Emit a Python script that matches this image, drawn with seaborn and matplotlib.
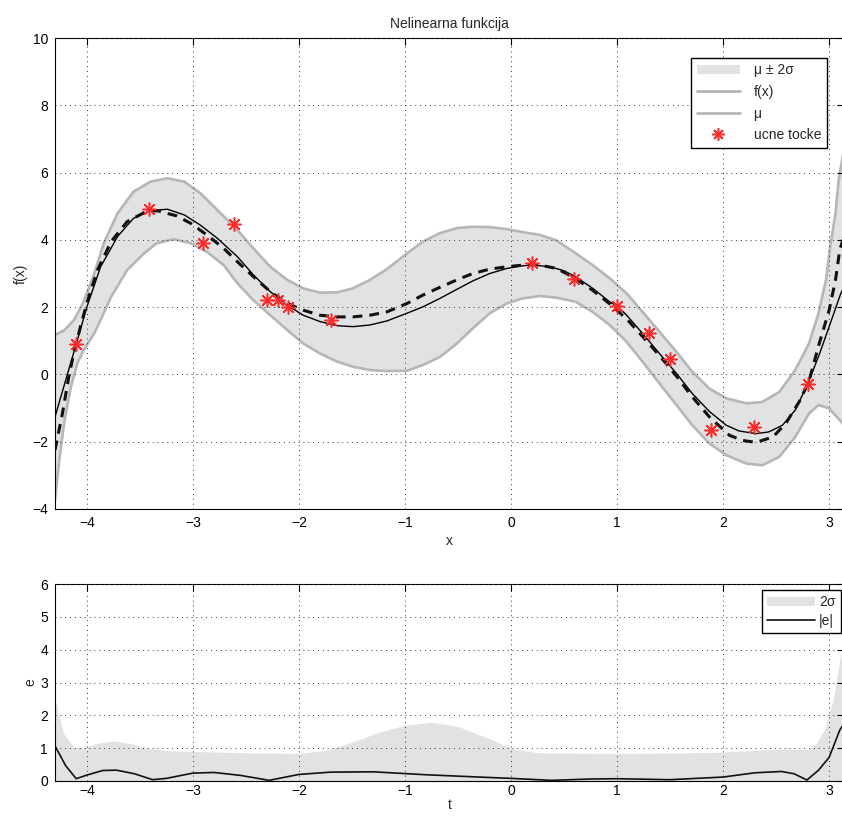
import numpy as np
import matplotlib
matplotlib.use('Agg')
import matplotlib.pyplot as plt
import seaborn as sns
from matplotlib.lines import Line2D
from matplotlib.patches import Patch

sns.set_theme(style='white')
plt.rcParams['font.family'] = ['Liberation Sans', 'DejaVu Sans']
plt.rcParams['axes.unicode_minus'] = True

# prava funkcija f(x)
x_f = [-4.30, -4.20, -4.10, -4.00, -3.87, -3.71, -3.56, -3.40, -3.24, -3.08, -2.93, -2.77,
       -2.58, -2.43, -2.27, -2.11, -1.96, -1.80, -1.64, -1.49, -1.33, -1.17, -0.98, -0.83,
       -0.67, -0.51, -0.36, -0.20, -0.04, 0.11, 0.21, 0.37, 0.50, 0.61, 0.77, 0.93, 1.01,
       1.09, 1.24, 1.40, 1.56, 1.71, 1.87, 2.03, 2.15, 2.31, 2.43, 2.56, 2.68, 2.80, 2.91,
       3.00, 3.11, 3.14]
y_f = [-1.26, -0.18, 0.90, 2.00, 3.20, 4.10, 4.64, 4.87, 4.91, 4.74, 4.44, 4.05,
       3.50, 2.96, 2.46, 2.06, 1.76, 1.57, 1.45, 1.42, 1.47, 1.59, 1.82, 2.01,
       2.26, 2.53, 2.78, 3.00, 3.15, 3.23, 3.25, 3.20, 3.08, 2.90, 2.56, 2.16, 2.01,
       1.76, 1.22, 0.62, 0.03, -0.57, -1.10, -1.51, -1.68, -1.76, -1.71, -1.51, -1.06, -0.27, 0.62,
       1.42, 2.41, 2.60]

# srednja vrijednost mu
x_mu = [-4.30, -4.23, -4.17, -4.12, -4.06, -4.00, -3.90, -3.77, -3.62, -3.46, -3.34, -3.15,
        -3.02, -2.87, -2.71, -2.58, -2.43, -2.27, -2.11, -1.96, -1.80, -1.64, -1.49, -1.33,
        -1.17, -0.98, -0.83, -0.67, -0.51, -0.36, -0.20, -0.04, 0.11, 0.27, 0.43, 0.61, 0.77,
        0.93, 1.09, 1.24, 1.40, 1.56, 1.71, 1.87, 2.06, 2.18, 2.31, 2.47, 2.59, 2.72, 2.81,
        2.90, 3.00, 3.06, 3.10, 3.14]
y_mu = [-2.25, -1.16, -0.07, 0.67, 1.42, 2.11, 3.10, 3.95, 4.54, 4.81, 4.87, 4.71,
        4.49, 4.15, 3.75, 3.35, 2.91, 2.46, 2.11, 1.91, 1.76, 1.71, 1.71, 1.76,
        1.86, 2.11, 2.36, 2.59, 2.81, 3.00, 3.13, 3.20, 3.25, 3.25, 3.15, 2.85, 2.50,
        2.10, 1.65, 1.13, 0.56, -0.05, -0.67, -1.26, -1.81, -1.96, -2.02, -1.86, -1.46, -0.80, -0.20,
        0.85, 1.91, 2.81, 3.70, 4.10]

# mu + 2 sigma
x_up = [-4.30, -4.21, -4.12, -4.03, -3.93, -3.84, -3.71, -3.56, -3.40, -3.24, -3.08, -2.93,
        -2.77, -2.58, -2.43, -2.27, -2.11, -1.96, -1.80, -1.64, -1.49, -1.33, -1.17, -0.98,
        -0.83, -0.67, -0.51, -0.36, -0.20, -0.04, 0.11, 0.27, 0.43, 0.61, 0.77, 0.93, 1.09,
        1.24, 1.40, 1.56, 1.71, 1.87, 2.03, 2.22, 2.37, 2.53, 2.68, 2.81, 2.90, 2.97, 3.01,
        3.06, 3.09, 3.14]
y_up = [1.17, 1.32, 1.62, 2.16, 3.00, 3.90, 4.79, 5.43, 5.73, 5.83, 5.73, 5.39,
        4.89, 4.29, 3.75, 3.20, 2.81, 2.56, 2.43, 2.44, 2.56, 2.81, 3.13, 3.60,
        3.95, 4.20, 4.35, 4.39, 4.38, 4.32, 4.23, 4.15, 3.98, 3.60, 3.25, 2.86, 2.41,
        1.86, 1.27, 0.67, 0.08, -0.42, -0.71, -0.86, -0.82, -0.52, 0.13, 0.92, 1.82, 2.81, 3.80,
        4.79, 5.78, 6.70]

# mu - 2 sigma
x_lo = [-4.30, -4.26, -4.21, -4.15, -4.09, -4.03, -3.93, -3.87, -3.77, -3.62, -3.46, -3.34,
        -3.18, -3.02, -2.87, -2.71, -2.58, -2.43, -2.27, -2.11, -1.96, -1.80, -1.64, -1.49,
        -1.33, -1.17, -0.98, -0.83, -0.67, -0.51, -0.36, -0.20, -0.04, 0.11, 0.27, 0.43, 0.61,
        0.77, 0.93, 1.09, 1.24, 1.40, 1.56, 1.71, 1.87, 2.03, 2.22, 2.37, 2.53, 2.68, 2.81,
        2.90, 3.00, 3.14]
y_lo = [-3.74, -2.55, -1.36, -0.37, 0.33, 0.72, 1.22, 1.62, 2.31, 3.10, 3.60, 3.90,
        4.02, 3.90, 3.65, 3.25, 2.71, 2.21, 1.76, 1.32, 0.92, 0.62, 0.38, 0.23,
        0.13, 0.10, 0.11, 0.28, 0.52, 0.92, 1.37, 1.82, 2.11, 2.26, 2.33, 2.28, 2.16,
        1.86, 1.47, 0.97, 0.38, -0.27, -0.91, -1.51, -2.05, -2.40, -2.65, -2.70, -2.45, -1.86, -1.16,
        -0.91, -1.01, -1.50]

# ucne tocke
pts_x = [-4.10, -3.41, -2.90, -2.61, -2.30, -2.20, -2.10, -1.70, 0.20, 0.59, 1.00, 1.30,
         1.50, 1.89, 2.29, 2.80]
pts_y = [0.90, 4.91, 3.92, 4.46, 2.21, 2.21, 1.99, 1.62, 3.30, 2.83, 2.03, 1.24,
         0.46, -1.64, -1.56, -0.27]

# donji graf: 2 sigma i |e|
x_s = [-4.30, -4.22, -4.12, -4.03, -3.90, -3.75, -3.60, -3.40, -3.20, -3.00, -2.50, -2.00,
       -1.75, -1.50, -1.25, -1.00, -0.75, -0.50, -0.25, 0.00, 0.25, 0.50, 1.00, 1.50, 2.00,
       2.40, 2.60, 2.80, 2.88, 2.96, 3.04, 3.10, 3.14]
y_s = [2.50, 1.45, 1.02, 1.02, 1.15, 1.22, 1.15, 0.98, 0.92, 0.90, 0.86, 0.84,
       0.93, 1.18, 1.48, 1.70, 1.79, 1.66, 1.35, 1.00, 0.86, 0.85, 0.84, 0.85, 0.88,
       0.95, 0.97, 0.96, 1.15, 1.60, 2.50, 3.70, 4.20]

x_e = [-4.30, -4.20, -4.10, -4.00, -3.85, -3.72, -3.55, -3.38, -3.25, -3.00, -2.80, -2.55,
       -2.28, -2.00, -1.70, -1.30, -0.80, -0.30, 0.00, 0.38, 0.75, 1.00, 1.50, 2.00, 2.30,
       2.55, 2.67, 2.79, 2.90, 3.00, 3.10, 3.14]
y_e = [1.07, 0.47, 0.07, 0.18, 0.32, 0.33, 0.22, 0.04, 0.08, 0.24, 0.26, 0.17,
       0.02, 0.20, 0.27, 0.28, 0.19, 0.12, 0.08, 0.02, 0.06, 0.07, 0.04, 0.12, 0.25,
       0.29, 0.22, 0.03, 0.33, 0.72, 1.55, 1.75]

band_fill = '#e1e2e4'
band_edge = '#b5b6b8'
star = (8, 2, 0)

fig = plt.figure(figsize=(8.42, 8.17), dpi=100)
ax1 = fig.add_axes([55 / 842, 1 - 509 / 817, 789 / 842, 471 / 817])
ax2 = fig.add_axes([55 / 842, 1 - 781 / 817, 789 / 842, 197 / 817])

# gornji graf
ax1.fill(np.r_[x_up, x_lo[::-1]], np.r_[y_up, y_lo[::-1]], color=band_fill, lw=0, zorder=1)
sns.lineplot(x=x_up, y=y_up, ax=ax1, color=band_edge, lw=1.9, estimator=None, zorder=2)
sns.lineplot(x=x_lo, y=y_lo, ax=ax1, color=band_edge, lw=1.9, estimator=None, zorder=2)
sns.lineplot(x=x_f, y=y_f, ax=ax1, color='black', lw=1.0, estimator=None, zorder=3)
sns.lineplot(x=x_mu, y=y_mu, ax=ax1, color='#111111', lw=2.2, estimator=None,
             dashes=False, zorder=3).lines[-1].set_dashes((3.2, 2.3))
sns.scatterplot(x=pts_x, y=pts_y, ax=ax1, marker=star, color='#ff2a2a', s=90,
                linewidth=1.1, zorder=4)

ax1.set_xlim(-4.3, 3.14)
ax1.set_ylim(-4, 10)
ax1.set_yticks(range(-4, 11, 2))
ax1.set_xticks(range(-4, 4))
ax1.set_title('Nelinearna funkcija', fontsize=10, pad=7)
ax1.set_xlabel('x', fontsize=10, labelpad=3)
ax1.set_ylabel('f(x)', fontsize=10, labelpad=3)

h1 = [Patch(facecolor=band_fill, edgecolor='none'),
      Line2D([], [], color=band_edge, lw=2),
      Line2D([], [], color=band_edge, lw=2),
      Line2D([], [], color='#ff2a2a', marker=star, ls='', markersize=9, markeredgewidth=1.1)]
ax1.legend(h1, ['μ ± 2σ', 'f(x)', 'μ', 'ucne tocke'], loc='upper right',
           bbox_to_anchor=(0.978, 0.958), borderaxespad=0, fontsize=10,
           handlelength=3.1, handletextpad=1.0, labelspacing=0.55, fancybox=False,
           framealpha=1, edgecolor='black')

# donji graf
ax2.fill_between(x_s, 0, y_s, color=band_fill, lw=0, zorder=1)
sns.lineplot(x=x_e, y=y_e, ax=ax2, color='#111111', lw=1.2, estimator=None, zorder=3)
ax2.set_xlim(-4.3, 3.14)
ax2.set_ylim(0, 6)
ax2.set_yticks(range(0, 7))
ax2.set_xticks(range(-4, 4))
ax2.set_xlabel('t', fontsize=10, labelpad=0)
ax2.set_ylabel('e', fontsize=10, labelpad=2)

h2 = [Patch(facecolor=band_fill, edgecolor='none'),
      Line2D([], [], color='#111111', lw=1.2)]
ax2.legend(h2, ['2σ', '|e|'], loc='upper left', bbox_to_anchor=(0.896, 0.97),
           borderaxespad=0, fontsize=10, handlelength=3.4, handletextpad=0.3,
           labelspacing=0.3, fancybox=False, framealpha=1, edgecolor='black')

for ax in (ax1, ax2):
    ax.grid(True, color='#333333', linestyle=(0, (1, 4)), lw=0.7)
    ax.set_axisbelow(False)
    for s in ax.spines.values():
        s.set_color('black')
        s.set_linewidth(0.8)
    ax.tick_params(direction='in', length=5, width=0.8, top=True, right=True,
                   labelsize=10, colors='black', pad=5)
    ax.set_facecolor('white')
ax2.tick_params(axis='x', pad=2)

fig.savefig('out.png', dpi=100, facecolor='white')
